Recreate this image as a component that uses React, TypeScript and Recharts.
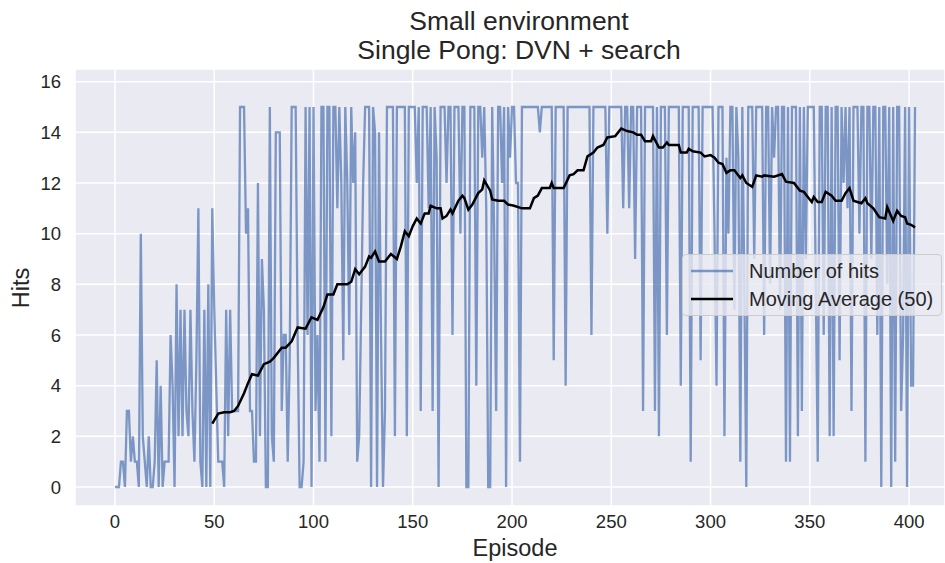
import React from 'react';
import { LineChart, Line, XAxis, YAxis, CartesianGrid, Legend } from 'recharts';

// Number of hits per episode (episode = index)
const hits: number[] = [
  0, 0, 0, 1, 1, 0, 3, 3, 1, 2,
  1, 1, 0, 10, 2, 1, 0, 2, 0, 0,
  1, 5, 0, 4, 0, 1, 1, 1, 6, 4,
  0, 8, 2, 7, 2, 7, 3, 2, 7, 3,
  1, 5, 11, 1, 0, 7, 0, 8, 0, 11,
  7, 4, 1, 1, 1, 0, 7, 2, 7, 3,
  3, 3, 3, 15, 15, 15, 10, 11, 3, 3,
  1, 1, 12, 2, 9, 7, 0, 0, 15, 2,
  1, 14, 14, 14, 3, 6, 6, 1, 5, 15,
  15, 15, 6, 0, 0, 1, 15, 6, 15, 0,
  15, 3, 6, 1, 15, 15, 1, 15, 15, 2,
  15, 15, 11, 15, 12, 5, 15, 12, 6, 15,
  12, 14, 1, 2, 7, 12, 15, 15, 15, 0,
  15, 14, 0, 14, 6, 0, 3, 15, 15, 15,
  15, 2, 15, 15, 15, 15, 15, 2, 15, 15,
  15, 15, 12, 15, 3, 15, 15, 15, 11, 15,
  3, 15, 13, 0, 15, 15, 15, 12, 15, 15,
  6, 15, 15, 15, 10, 15, 15, 0, 0, 15,
  15, 15, 4, 15, 15, 13, 15, 11, 0, 0,
  15, 10, 3, 15, 15, 12, 15, 0, 15, 13,
  15, 15, 12, 12, 1, 15, 15, 15, 15, 15,
  15, 15, 15, 15, 14, 15, 15, 15, 15, 15,
  15, 5, 15, 15, 15, 15, 15, 4, 15, 15,
  15, 15, 15, 15, 15, 15, 15, 15, 15, 15,
  6, 15, 15, 15, 15, 15, 15, 15, 10, 15,
  15, 15, 15, 15, 15, 15, 11, 15, 15, 11,
  15, 15, 9, 15, 15, 15, 3, 15, 15, 15,
  15, 15, 3, 15, 2, 15, 15, 15, 6, 15,
  15, 15, 15, 15, 15, 4, 15, 15, 15, 15,
  1, 15, 15, 15, 15, 5, 15, 15, 15, 15,
  15, 15, 10, 4, 15, 15, 15, 2, 13, 10,
  15, 15, 7, 15, 13, 1, 15, 8, 0, 15,
  15, 15, 9, 15, 15, 15, 15, 6, 15, 15,
  8, 15, 13, 15, 15, 7, 15, 15, 1, 15,
  1, 15, 15, 15, 2, 15, 3, 15, 9, 15,
  15, 15, 15, 8, 1, 15, 15, 6, 15, 15,
  2, 15, 2, 15, 15, 5, 15, 12, 15, 11,
  15, 3, 15, 15, 15, 10, 15, 15, 1, 15,
  15, 9, 15, 15, 6, 15, 0, 15, 15, 8,
  15, 0, 15, 1, 15, 15, 3, 6, 15, 0,
  15, 4, 4, 15,
];

// Moving average (50)
const maEpisodes: number[] = [
  49, 52, 55, 58, 60, 62, 65, 67, 69, 72, 75, 78, 80, 84, 86, 89, 92, 96, 99,
  102, 105, 107, 110, 112, 117, 119, 121, 123, 126, 128, 129, 131, 133, 136, 139, 142, 144, 146, 148,
  150, 152, 154, 156, 158, 159, 162, 164, 165, 167, 169, 170, 173, 175, 176, 178, 180, 183, 185, 186, 189,
  190, 193, 196, 198, 201, 205, 209, 211, 213, 215, 219, 220, 221, 226, 229, 231, 233, 236, 238, 241,
  243, 246, 248, 252, 255, 258, 261, 263, 265, 267, 270, 271, 274, 276, 278, 279, 284, 285, 288, 289,
  291, 295, 297, 300, 302, 304, 306, 308, 310, 312, 315, 316, 318, 321, 323, 326, 327, 332, 336, 338,
  342, 345, 347, 349, 351, 352, 354, 356, 358, 361, 363, 366, 368, 370, 372, 374, 376, 378, 379, 382,
  385, 388, 389, 392, 394, 396, 398, 399, 401, 403,
];
const maValues: number[] = [
  2.5, 2.9, 2.95, 2.95, 3.0, 3.2, 3.7, 4.1, 4.45, 4.4, 4.85, 4.95, 5.1, 5.5, 5.5, 5.75, 6.3, 6.25, 6.7,
  6.6, 7.1, 7.6, 7.6, 8.0, 8.0, 8.1, 8.6, 8.4, 8.7, 9.1, 9.05, 9.3, 8.9, 8.9, 9.2, 9.0, 9.5, 10.1, 9.9,
  10.3, 10.6, 10.4, 10.8, 10.8, 11.1, 11.0, 11.0, 10.6, 10.7, 10.95, 10.8, 11.3, 11.5, 11.4, 10.95, 11.15, 11.6, 11.75, 12.1, 11.7,
  11.35, 11.3, 11.3, 11.15, 11.1, 11.0, 11.0, 11.4, 11.5, 11.8, 11.8, 12.0, 11.8, 11.8, 12.3, 12.35, 12.5, 12.5, 13.05, 13.2,
  13.4, 13.5, 13.8, 13.85, 14.15, 14.05, 14.0, 13.9, 13.9, 13.65, 13.65, 13.85, 13.4, 13.4, 13.6, 13.5, 13.5, 13.2, 13.2, 13.35,
  13.25, 13.2, 13.05, 13.1, 13.0, 12.8, 12.75, 12.4, 12.5, 12.5, 12.2, 12.3, 12.0, 11.85, 12.3, 12.25, 12.3, 12.25, 12.35, 12.05,
  12.0, 11.7, 11.65, 11.45, 11.25, 11.45, 11.25, 11.25, 11.65, 11.5, 11.3, 11.3, 11.6, 11.8, 11.3, 11.25, 11.2, 11.4, 11.2, 11.0,
  10.65, 10.6, 11.05, 10.5, 10.9, 10.7, 10.65, 10.4, 10.35, 10.25,
];

const xTicks: number[] = [0, 50, 100, 150, 200, 250, 300, 350, 400];
const yTicks: number[] = [0, 2, 4, 6, 8, 10, 12, 14, 16];
const titleLines: string[] = ['Small environment', 'Single Pong: DVN + search'];
const xLabel = 'Episode';
const yLabel = 'Hits';
const seriesNames: string[] = ['Number of hits', 'Moving Average (50)'];

const hitsData = hits.map((v, i) => ({ ep: i, hits: v }));
const maData = maEpisodes.map((e, i) => ({ ep: e, ma: maValues[i] }));

const FONT = '"Liberation Sans", Arial, Helvetica, sans-serif';
const TEXT = '#262626';
const BLUE = '#4C72B0';

const LegendBox = () => (
  <div
    style={{
      width: 260,
      height: 62,
      boxSizing: 'border-box',
      background: 'rgba(234,234,242,0.8)',
      border: '1px solid #CCCCCC',
      borderRadius: 4,
      position: 'relative',
      fontFamily: FONT,
      fontSize: 20,
      color: TEXT,
    }}
  >
    {seriesNames.map((name, i) => (
      <div key={name} style={{ position: 'absolute', left: 0, top: 2 + i * 28, height: 28, width: '100%' }}>
        <svg width={60} height={28} style={{ position: 'absolute', left: 0, top: 0 }}>
          <line
            x1={8}
            x2={50}
            y1={14}
            y2={14}
            stroke={i === 0 ? BLUE : '#000000'}
            strokeOpacity={i === 0 ? 0.7 : 1}
            strokeWidth={2.3}
          />
        </svg>
        <span style={{ position: 'absolute', left: 66, top: 2, lineHeight: '24px', whiteSpace: 'nowrap' }}>{name}</span>
      </div>
    ))}
  </div>
);

export default function App() {
  return (
    <div style={{ position: 'absolute', left: 0, top: 0, width: 945, height: 563, background: '#FFFFFF', overflow: 'hidden' }}>
      <LineChart width={945} height={563} data={hitsData} margin={{ top: 69, right: 0, bottom: 0, left: 0 }}>
        <CartesianGrid fill="#EAEAF2" fillOpacity={1} stroke="#FFFFFF" strokeWidth={1.5} />
        <XAxis
          dataKey="ep"
          type="number"
          domain={[-20.15, 418.1]}
          allowDataOverflow
          ticks={xTicks}
          axisLine={false}
          tickLine={false}
          tickSize={0}
          tickMargin={9}
          height={57}
          tick={{ fill: TEXT, fontSize: 18.5, fontFamily: FONT }}
        />
        <YAxis
          type="number"
          domain={[-0.75, 16.5]}
          allowDataOverflow
          ticks={yTicks}
          axisLine={false}
          tickLine={false}
          tickSize={0}
          tickMargin={14}
          width={75}
          tick={{ fill: TEXT, fontSize: 18.5, fontFamily: FONT }}
        />
        <Line
          name={seriesNames[0]}
          dataKey="hits"
          type="linear"
          stroke={BLUE}
          strokeOpacity={0.7}
          strokeWidth={2.3}
          dot={false}
          activeDot={false}
          isAnimationActive={false}
        />
        <Line
          name={seriesNames[1]}
          data={maData}
          dataKey="ma"
          type="linear"
          stroke="#000000"
          strokeWidth={2.5}
          dot={false}
          activeDot={false}
          isAnimationActive={false}
        />
        <Legend
          layout="horizontal"
          verticalAlign="middle"
          align="center"
          wrapperStyle={{ left: 682, top: 254, width: 260, height: 62 }}
          content={() => <LegendBox />}
        />
      </LineChart>
      <div
        style={{
          position: 'absolute',
          left: 219,
          width: 600,
          top: 7,
          textAlign: 'center',
          fontFamily: FONT,
          fontSize: 26.5,
          lineHeight: '29px',
          color: TEXT,
        }}
      >
        {titleLines.map((t) => (
          <div key={t}>{t}</div>
        ))}
      </div>
      <div
        style={{
          position: 'absolute',
          left: 315,
          width: 400,
          top: 534,
          textAlign: 'center',
          fontFamily: FONT,
          fontSize: 23.5,
          lineHeight: '28px',
          color: TEXT,
        }}
      >
        {xLabel}
      </div>
      <div
        style={{
          position: 'absolute',
          left: 21,
          top: 288,
          transform: 'translate(-50%, -50%) rotate(-90deg)',
          fontFamily: FONT,
          fontSize: 23.5,
          lineHeight: '28px',
          color: TEXT,
          whiteSpace: 'nowrap',
        }}
      >
        {yLabel}
      </div>
    </div>
  );
}
